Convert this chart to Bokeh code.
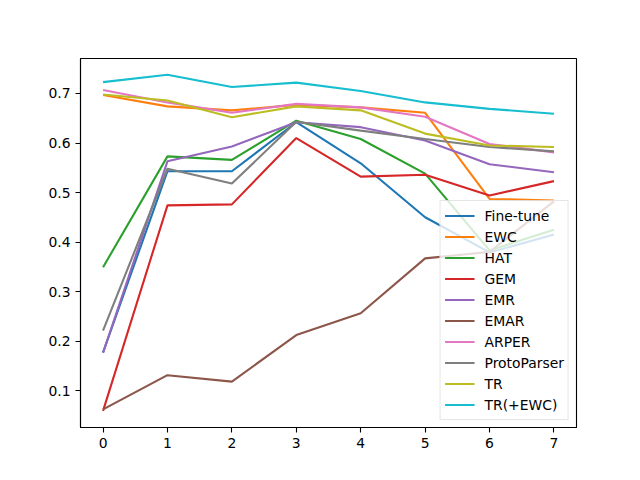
from bokeh.plotting import figure
from bokeh.models import FixedTicker, Legend, LegendItem
from bokeh.embed import file_html
from bokeh.resources import INLINE

steps = [0, 1, 2, 3, 4, 5, 6, 7]
fine_tune = [0.177, 0.543, 0.543, 0.642, 0.559, 0.450, 0.379, 0.415]
ewc = [0.697, 0.674, 0.666, 0.677, 0.672, 0.661, 0.487, 0.484]
hat = [0.349, 0.573, 0.566, 0.645, 0.608, 0.538, 0.383, 0.425]
gem = [0.059, 0.474, 0.476, 0.610, 0.532, 0.536, 0.494, 0.523]
emr = [0.176, 0.563, 0.593, 0.642, 0.632, 0.605, 0.557, 0.541]
emar = [0.062, 0.131, 0.118, 0.212, 0.256, 0.367, 0.380, 0.482]
arper = [0.707, 0.682, 0.661, 0.679, 0.672, 0.653, 0.598, 0.581]
protoparser = [0.221, 0.548, 0.518, 0.643, 0.625, 0.608, 0.592, 0.583]
tr = [0.698, 0.686, 0.652, 0.674, 0.666, 0.619, 0.595, 0.592]
tr_ewc = [0.723, 0.738, 0.713, 0.722, 0.705, 0.682, 0.669, 0.659]

names = ["Fine-tune", "EWC", "HAT", "GEM", "EMR", "EMAR", "ARPER",
         "ProtoParser", "TR", "TR(+EWC)"]
series = [fine_tune, ewc, hat, gem, emr, emar, arper, protoparser, tr, tr_ewc]
colors = ["#1f77b4", "#ff7f0e", "#2ca02c", "#d62728", "#9467bd",
          "#8c564b", "#e377c2", "#7f7f7f", "#bcbd22", "#17becf"]
yticks = [0.1, 0.2, 0.3, 0.4, 0.5, 0.6, 0.7]

p = figure(width=624, height=464, output_backend="svg", toolbar_location=None,
           x_range=(-0.35, 7.35), y_range=(0.0253, 0.7707),
           min_border_left=80, min_border_right=48,
           min_border_top=58, min_border_bottom=37)
p.background_fill_color = "white"
p.border_fill_color = "white"
p.outline_line_color = "black"
p.outline_line_width = 1.1
p.xgrid.visible = False
p.ygrid.visible = False

for ax in (p.xaxis, p.yaxis):
    ax.axis_line_color = "black"
    ax.axis_line_width = 1.1
    ax.major_tick_line_color = "black"
    ax.major_tick_line_width = 1.1
    ax.major_tick_out = 5
    ax.major_tick_in = 0
    ax.minor_tick_line_color = None
    ax.major_label_text_font = "DejaVu Sans"
    ax.major_label_text_font_size = "13.9px"
    ax.major_label_text_color = "black"
    ax.major_label_standoff = 5
p.xaxis.ticker = FixedTicker(ticks=steps)
p.yaxis.ticker = FixedTicker(ticks=yticks)

items = []
for name, ys, c in zip(names, series, colors):
    r = p.line(steps, ys, line_color=c, line_width=2.1)
    items.append(LegendItem(label=name, renderers=[r]))

legend = Legend(items=items, location="bottom_right",
                label_text_font="DejaVu Sans", label_text_font_size="13.9px",
                label_text_color="black",
                glyph_width=30, glyph_height=21, label_height=21,
                label_standoff=10, spacing=0, padding=4, margin=7,
                border_line_color="#cccccc", border_line_width=1,
                background_fill_color="white", background_fill_alpha=0.8)
p.add_layout(legend, "center")

open("out.html", "w").write(file_html(p, INLINE))
